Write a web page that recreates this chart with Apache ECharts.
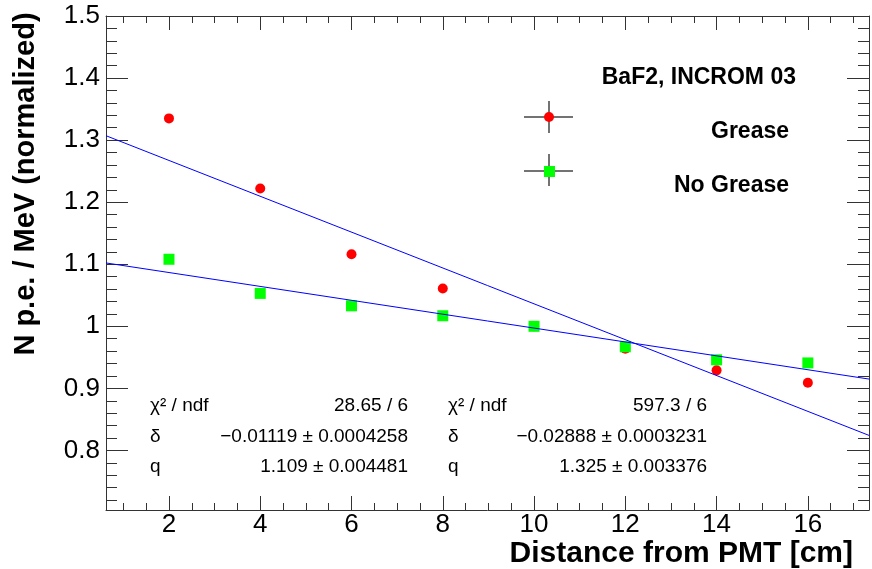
<!DOCTYPE html>
<html>
<head>
<meta charset="utf-8">
<script src="https://cdn.jsdelivr.net/npm/echarts@6/dist/echarts.min.js"></script>
<style>
html,body{margin:0;padding:0;background:#fff;}
#chart{width:872px;height:569px;}
</style>
</head>
<body>
<div id="chart"></div>
<script>
// ---- data ----
var distances = [2, 4, 6, 8, 10, 12, 14, 16];
var greaseValues = [1.335, 1.222, 1.116, 1.061, 1.0, 0.964, 0.929, 0.909];
var noGreaseValues = [1.108, 1.053, 1.033, 1.017, 1.0, 0.967, 0.946, 0.941];
var fitX = [0.62, 17.34];
var greaseFitY = [1.3071, 0.8242];
var noGreaseFitY = [1.1021, 0.9150];
var xMajorTicks = [2, 4, 6, 8, 10, 12, 14, 16];
var yMajorTicks = [0.8, 0.9, 1, 1.1, 1.2, 1.3, 1.4, 1.5];
var xRange = [0.62, 17.34];
var yRange = [0.704, 1.5];
var statsLeft = [["χ² / ndf", "28.65 / 6"], ["δ", "−0.01119 ± 0.0004258"], ["q", "1.109 ± 0.004481"]];
var statsRight = [["χ² / ndf", "597.3 / 6"], ["δ", "−0.02888 ± 0.0003231"], ["q", "1.325 ± 0.003376"]];
var legendTitle = "BaF2, INCROM 03";
var legendNames = ["Grease", "No Grease"];
var xTitle = "Distance from PMT [cm]";
var yTitle = "N p.e. / MeV (normalized)";

// minor tick positions
var xMinorTicks = [];
for (var i = 2; i <= 34; i++) { var v = i / 2; if (v > xRange[0] && v < xRange[1] && i % 4 !== 0) xMinorTicks.push(v); }
var yMinorTicks = [];
for (var j = 36; j <= 74; j++) { var w = j / 50; if (j % 5 !== 0) yMinorTicks.push(Math.round(w * 100) / 100); }

function pairs(xs, ys) { return xs.map(function (x, k) { return [x, ys[k]]; }); }

var FONT = "'Liberation Sans', Arial, sans-serif";
var LINE = '#333';

function xAx(pos, ticks, len, labels, line) {
  return {
    type: 'value', position: pos, min: xRange[0], max: xRange[1],
    axisLine: { show: line, onZero: false, lineStyle: { color: LINE, width: 1 } },
    axisTick: { show: true, inside: true, length: len, customValues: ticks, lineStyle: { color: LINE, width: 1 } },
    axisLabel: labels ? { show: true, customValues: ticks, fontSize: 26, color: '#000', fontFamily: FONT, margin: 2 } : { show: false },
    splitLine: { show: false }
  };
}
function yAx(pos, ticks, len, labels, line) {
  return {
    type: 'value', position: pos, min: yRange[0], max: yRange[1],
    axisLine: { show: line, onZero: false, lineStyle: { color: LINE, width: 1 } },
    axisTick: { show: true, inside: true, length: len, customValues: ticks, lineStyle: { color: LINE, width: 1 } },
    axisLabel: labels ? { show: true, customValues: ticks, fontSize: 26, color: '#000', fontFamily: FONT, margin: 6 } : { show: false },
    splitLine: { show: false }
  };
}

var graphics = [];
// axis titles
graphics.push({ type: 'text', x: 26, y: 184, rotation: Math.PI / 2,
  style: { text: yTitle, font: 'bold 29px ' + FONT, fill: '#000', align: 'center', verticalAlign: 'middle' } });
graphics.push({ type: 'text', x: 853, y: 554,
  style: { text: xTitle, font: 'bold 30px ' + FONT, fill: '#000', align: 'right', verticalAlign: 'middle' } });
// stats boxes
var rowsY = [406, 437, 467];
[[statsLeft, 150, 408], [statsRight, 448, 707]].forEach(function (col) {
  col[0].forEach(function (row, r) {
    graphics.push({ type: 'text', x: col[1], y: rowsY[r], style: { text: row[0], font: '19px ' + FONT, fill: '#000', align: 'left', verticalAlign: 'middle' } });
    graphics.push({ type: 'text', x: col[2], y: rowsY[r], style: { text: row[1], font: '19px ' + FONT, fill: '#000', align: 'right', verticalAlign: 'middle' } });
  });
});
// legend
graphics.push({ type: 'text', x: 796, y: 78, style: { text: legendTitle, font: 'bold 23px ' + FONT, fill: '#000', align: 'right', verticalAlign: 'middle' } });
graphics.push({ type: 'text', x: 789, y: 132, style: { text: legendNames[0], font: 'bold 23px ' + FONT, fill: '#000', align: 'right', verticalAlign: 'middle' } });
graphics.push({ type: 'text', x: 789, y: 186, style: { text: legendNames[1], font: 'bold 23px ' + FONT, fill: '#000', align: 'right', verticalAlign: 'middle' } });
var crossStyle = { stroke: '#444', lineWidth: 1.5 };
graphics.push({ type: 'line', shape: { x1: 524, y1: 117, x2: 573, y2: 117 }, style: crossStyle });
graphics.push({ type: 'line', shape: { x1: 549, y1: 101, x2: 549, y2: 133 }, style: crossStyle });
graphics.push({ type: 'circle', shape: { cx: 549, cy: 117, r: 5 }, style: { fill: '#ff0000' } });
graphics.push({ type: 'line', shape: { x1: 524, y1: 171, x2: 573, y2: 171 }, style: crossStyle });
graphics.push({ type: 'line', shape: { x1: 549, y1: 154, x2: 549, y2: 186 }, style: crossStyle });
graphics.push({ type: 'rect', shape: { x: 544, y: 166, width: 11, height: 11 }, style: { fill: '#00ff00' } });

var chart = echarts.init(document.getElementById('chart'), null, { renderer: 'canvas' });
chart.setOption({
  animation: false,
  backgroundColor: '#fff',
  grid: { left: 106, right: 3, top: 16, bottom: 59, containLabel: false },
  xAxis: [
    xAx('bottom', xMajorTicks, 14, true, true),
    xAx('bottom', xMinorTicks, 7, false, false),
    xAx('top', xMajorTicks, 14, false, true),
    xAx('top', xMinorTicks, 7, false, false)
  ],
  yAxis: [
    yAx('left', yMajorTicks, 22, true, true),
    yAx('left', yMinorTicks, 11, false, false),
    yAx('right', yMajorTicks, 22, false, true),
    yAx('right', yMinorTicks, 11, false, false)
  ],
  series: [
    { type: 'scatter', name: 'Grease', xAxisIndex: 0, yAxisIndex: 0, data: pairs(distances, greaseValues),
      symbol: 'circle', symbolSize: 10, itemStyle: { color: '#ff0000', opacity: 1 }, z: 3 },
    { type: 'scatter', name: 'No Grease', xAxisIndex: 0, yAxisIndex: 0, data: pairs(distances, noGreaseValues),
      symbol: 'rect', symbolSize: 11, itemStyle: { color: '#00ff00', opacity: 1 }, z: 4 },
    { type: 'line', name: 'Grease fit', xAxisIndex: 0, yAxisIndex: 0, data: pairs(fitX, greaseFitY),
      showSymbol: false, symbol: 'none', lineStyle: { color: '#0000ff', width: 1 }, z: 5, silent: true },
    { type: 'line', name: 'No Grease fit', xAxisIndex: 0, yAxisIndex: 0, data: pairs(fitX, noGreaseFitY),
      showSymbol: false, symbol: 'none', lineStyle: { color: '#0000ff', width: 1 }, z: 5, silent: true }
  ],
  graphic: graphics
});
</script>
</body>
</html>
